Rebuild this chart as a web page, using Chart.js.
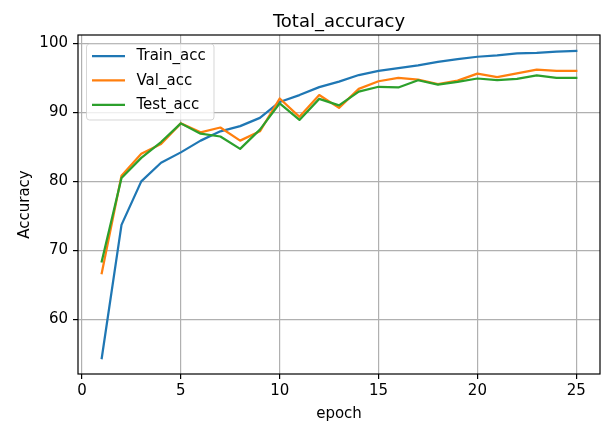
<!DOCTYPE html>
<html>
<head>
<meta charset="utf-8">
<script src="https://cdn.jsdelivr.net/npm/chart.js@4"></script>
<style>
  html, body { margin: 0; padding: 0; background: #ffffff; }
  #c { display: block; }
</style>
</head>
<body>
<canvas id="c" width="604" height="422"></canvas>
<script>
const epochs = [1,2,3,4,5,6,7,8,9,10,11,12,13,14,15,16,17,18,19,20,21,22,23,24,25];
const trainAcc = [54.4, 73.7, 80.0, 82.7, 84.2, 85.9, 87.25, 88.0, 89.2, 91.5, 92.5, 93.65, 94.45, 95.4, 96.0, 96.4, 96.8, 97.3, 97.7, 98.05, 98.25, 98.55, 98.6, 98.8, 98.9];
const valAcc = [66.7, 80.8, 84.0, 85.4, 88.4, 87.1, 87.8, 85.9, 87.25, 92.0, 89.35, 92.5, 90.65, 93.4, 94.5, 95.0, 94.75, 94.1, 94.6, 95.6, 95.1, 95.65, 96.2, 96.0, 96.0];
const testAcc = [68.4, 80.5, 83.4, 85.7, 88.4, 86.9, 86.5, 84.7, 87.5, 91.3, 88.9, 91.95, 91.0, 93.0, 93.7, 93.6, 94.65, 94.0, 94.4, 94.9, 94.65, 94.85, 95.35, 95.0, 95.0];
const xTicks = [0, 5, 10, 15, 20, 25];
const yTicks = [60, 70, 80, 90, 100];
const seriesNames = ['Train_acc', 'Val_acc', 'Test_acc'];
const seriesColors = ['#1f77b4', '#ff7f0e', '#2ca02c'];
const titleText = 'Total_accuracy';
const xLabel = 'epoch';
const yLabel = 'Accuracy';

const FONT = "'DejaVu Sans', sans-serif";
Chart.defaults.font.family = FONT;

function pts(vals) { return vals.map((v, i) => ({ x: epochs[i], y: v })); }

const seriesData = [trainAcc, valAcc, testAcc];
const datasets = seriesData.map((vals, i) => ({
  label: seriesNames[i],
  data: pts(vals),
  borderColor: seriesColors[i],
  backgroundColor: seriesColors[i],
  borderWidth: 2.25,
  pointRadius: 0,
  pointHoverRadius: 0,
  tension: 0,
  fill: false,
  borderJoinStyle: 'round',
  borderCapStyle: 'square',
  order: 3 - i
}));

const decor = {
  id: 'decor',
  afterDraw(chart) {
    const ctx = chart.ctx;
    const a = chart.chartArea;
    ctx.save();
    // spines
    ctx.strokeStyle = '#000000';
    ctx.lineWidth = 1.2;
    ctx.strokeRect(a.left, a.top, a.right - a.left, a.bottom - a.top);

    // legend
    const lx = 86.5, ly = 44, lw = 127.5, lh = 76, r = 3;
    ctx.beginPath();
    ctx.moveTo(lx + r, ly);
    ctx.lineTo(lx + lw - r, ly);
    ctx.quadraticCurveTo(lx + lw, ly, lx + lw, ly + r);
    ctx.lineTo(lx + lw, ly + lh - r);
    ctx.quadraticCurveTo(lx + lw, ly + lh, lx + lw - r, ly + lh);
    ctx.lineTo(lx + r, ly + lh);
    ctx.quadraticCurveTo(lx, ly + lh, lx, ly + lh - r);
    ctx.lineTo(lx, ly + r);
    ctx.quadraticCurveTo(lx, ly, lx + r, ly);
    ctx.closePath();
    ctx.fillStyle = 'rgba(255,255,255,0.8)';
    ctx.fill();
    ctx.strokeStyle = 'rgba(204,204,204,0.8)';
    ctx.lineWidth = 1;
    ctx.stroke();
    ctx.font = '15px ' + FONT;
    ctx.textAlign = 'left';
    ctx.textBaseline = 'middle';
    chart.data.datasets.forEach((ds, i) => {
      const y = 56 + i * 24.4;
      ctx.strokeStyle = ds.borderColor;
      ctx.lineWidth = 2.25;
      ctx.lineCap = 'butt';
      ctx.beginPath();
      ctx.moveTo(92, y);
      ctx.lineTo(125, y);
      ctx.stroke();
      ctx.fillStyle = '#000000';
      ctx.fillText(ds.label, 136.5, y + 0.5);
    });

    // title
    const cx = (a.left + a.right) / 2;
    ctx.fillStyle = '#000000';
    ctx.textAlign = 'center';
    ctx.textBaseline = 'alphabetic';
    ctx.font = '18px ' + FONT;
    ctx.fillText(titleText, cx, 26.5);
    // x label
    ctx.font = '15px ' + FONT;
    ctx.fillText(xLabel, cx, 417.5);
    // y label
    ctx.save();
    ctx.translate(28.5, (a.top + a.bottom) / 2);
    ctx.rotate(-Math.PI / 2);
    ctx.fillText(yLabel, 0, 0);
    ctx.restore();
    ctx.restore();
  }
};

new Chart(document.getElementById('c'), {
  type: 'line',
  data: { datasets },
  options: {
    responsive: false,
    animation: false,
    devicePixelRatio: 1,
    layout: { padding: { top: 35, right: 4, bottom: 0, left: 0 } },
    plugins: {
      legend: { display: false },
      title: { display: false },
      tooltip: { enabled: false }
    },
    scales: {
      x: {
        type: 'linear',
        min: -0.2,
        max: 26.2,
        afterBuildTicks(scale) { scale.ticks = xTicks.map(v => ({ value: v })); },
        afterFit(scale) { scale.height = 48; },
        ticks: { color: '#000000', font: { size: 15, family: FONT }, padding: 3, maxRotation: 0, autoSkip: false },
        grid: { color: '#b0b0b0', lineWidth: 1.2, tickLength: 5, tickColor: '#000000', tickWidth: 1.2 },
        border: { display: false }
      },
      y: {
        type: 'linear',
        min: 52.1,
        max: 101.2,
        afterBuildTicks(scale) { scale.ticks = yTicks.map(v => ({ value: v })); },
        afterFit(scale) { scale.width = 78; },
        ticks: { color: '#000000', font: { size: 15, family: FONT }, padding: 5, autoSkip: false },
        grid: { color: '#b0b0b0', lineWidth: 1.2, tickLength: 5, tickColor: '#000000', tickWidth: 1.2 },
        border: { display: false }
      }
    }
  },
  plugins: [decor]
});
</script>
</body>
</html>
